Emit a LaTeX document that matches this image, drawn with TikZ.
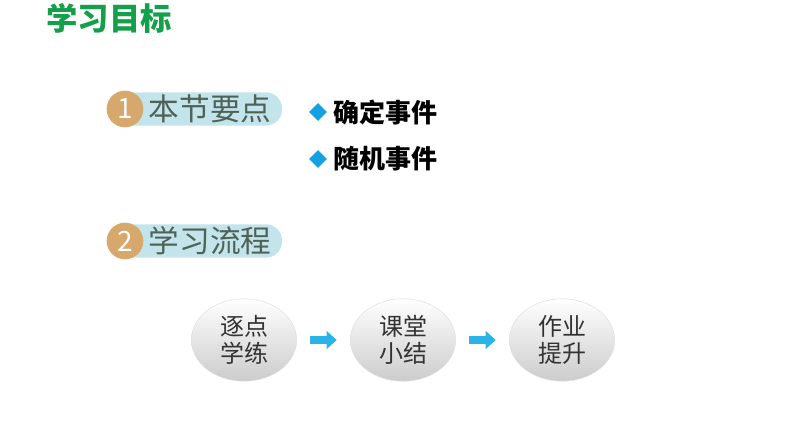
\documentclass[tikz,border=0pt]{standalone}
\usepackage{fontspec}
\setmainfont{Noto Sans CJK SC}
\usetikzlibrary{arrows.meta,positioning,shapes.geometric}
\definecolor{titlegreen}{RGB}{20,160,75}
\definecolor{badgetan}{RGB}{214,168,108}
\definecolor{barblue}{RGB}{196,228,236}
\definecolor{bartext}{RGB}{78,98,88}
\definecolor{diamondblue}{RGB}{20,160,225}
\definecolor{flowblue}{RGB}{40,180,230}
\tikzset{
  bar/.style={rectangle,rounded corners=12pt,fill=barblue,minimum width=121.5pt,minimum height=25pt,inner sep=0pt},
  badge/.style={circle,fill=badgetan,minimum size=27.5pt,inner sep=0pt,text=white,font=\fontsize{21}{21}\selectfont},
  bartitle/.style={text=bartext,font=\fontsize{23}{24}\selectfont},
  bullet/.style={diamond,fill=diamondblue,minimum size=13.5pt,inner sep=0pt},
  bullettext/.style={anchor=west,font=\bfseries\fontsize{19.5}{20}\selectfont},
  stepball/.style={ellipse,minimum width=79pt,minimum height=60pt,draw=black!12,top color=white,bottom color=black!20,
    text=black!80,align=center,font=\fontsize{18}{20.5}\selectfont},
  flow/.style={flowblue,line width=6pt,-{Triangle[length=7.5pt,width=13pt]},shorten <=10pt,shorten >=10pt}
}
\begin{document}
\begin{tikzpicture}[x=0.75pt,y=-0.75pt]
  \useasboundingbox (0,0) rectangle (794,447);
  % title
  \node[text=titlegreen,font=\bfseries\fontsize{23.5}{24}\selectfont] (title) at (109,18) {学习目标};
  % section 1
  \node[bar] (bar1) at (201,109) {};
  \node[badge] (badge1) at (125,109) {1};
  \node[bartitle] (sec1) at (210,109) {本节要点};
  \node[bullet] (d1) at (318,112) {};
  \node[bullettext] (b1) at (329,112) {确定事件};
  \node[bullet] (d2) at (318,159) {};
  \node[bullettext] (b2) at (329,159) {随机事件};
  % section 2
  \node[bar] (bar2) at (201,241) {};
  \node[badge] (badge2) at (125,241) {2};
  \node[bartitle] (sec2) at (210,241) {学习流程};
  % flow
  \node[stepball] (s1) at (244,340) {逐点\\学练};
  \node[stepball] (s2) at (403,340) {课堂\\小结};
  \node[stepball] (s3) at (562,340) {作业\\提升};
  \draw[flow] (s1) -- (s2);
  \draw[flow] (s2) -- (s3);
\end{tikzpicture}
\end{document}
